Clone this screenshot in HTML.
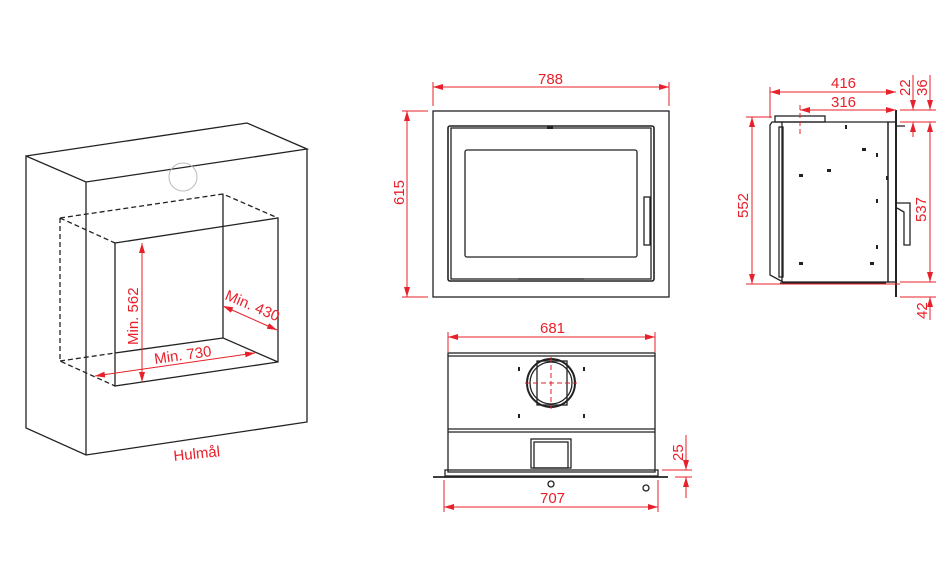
<!DOCTYPE html>
<html><head><meta charset="utf-8"><style>
html,body{margin:0;padding:0;background:#fff;}
svg{display:block}
text{font-family:"Liberation Sans",sans-serif;fill:#e8202a;font-size:15px}
</style></head><body>
<svg width="950" height="578" viewBox="0 0 950 578" xmlns="http://www.w3.org/2000/svg">
<defs>
<marker id="a" viewBox="0 0 10 6" refX="10" refY="3" markerWidth="10" markerHeight="6" orient="auto-start-reverse" markerUnits="userSpaceOnUse"><path d="M0,0L10,3L0,6z" fill="#e8202a"/></marker>
</defs>
<!-- LEFT ISO -->
<g stroke="#222" stroke-width="1.3" fill="none">
<path d="M26,156L247,123L307,149L86,182L26,156L26,428L86,455L307,422L307,149M86,182L86,455"/>
<path d="M115,243L278,218L278,362L115,386Z"/>
<path d="M223,194L223,338L278,362" />
<g stroke-dasharray="5,3">
<path d="M60,218L223,194L278,218M60,218L115,243M60,218L60,361L115,386M60,361L115,353"/>
</g>
<path d="M115,353L223,338"/>
</g>
<circle cx="183" cy="177" r="14" fill="none" stroke="#bbb" stroke-width="1"/>
<g stroke="#e8202a" stroke-width="1" fill="none">
<line x1="142" y1="243" x2="142" y2="382" marker-start="url(#a)" marker-end="url(#a)"/>
<line x1="95" y1="376" x2="255" y2="353" marker-start="url(#a)" marker-end="url(#a)"/>
<line x1="223" y1="306" x2="277" y2="330" marker-start="url(#a)" marker-end="url(#a)"/>
</g>
<text transform="translate(138,345) rotate(-90)">Min. 562</text>
<text transform="translate(155,364) rotate(-8)">Min. 730</text>
<text transform="translate(224,299) rotate(23)">Min. 430</text>
<text transform="translate(174,461) rotate(-6)">Hulmål</text>

<!-- FRONT VIEW -->
<g stroke="#222" stroke-width="1.3" fill="none">
<rect x="433" y="111" width="236" height="186"/>
<rect x="448" y="126" width="206" height="155" rx="2" stroke-width="1.6"/>
<rect x="451" y="128" width="200" height="151"/>
<rect x="465" y="150" width="172" height="107" rx="2"/>
<rect x="644" y="197" width="6" height="48"/>
<line x1="518" y1="279" x2="584" y2="279"/>
</g>
<rect x="547" y="126" width="6" height="3" fill="#222"/>
<g stroke="#e8202a" stroke-width="1" fill="none">
<line x1="433" y1="87" x2="669" y2="87" marker-start="url(#a)" marker-end="url(#a)"/>
<line x1="433" y1="82" x2="433" y2="106"/><line x1="669" y1="82" x2="669" y2="106"/>
<line x1="407" y1="111" x2="407" y2="297" marker-start="url(#a)" marker-end="url(#a)"/>
<line x1="402" y1="111" x2="428" y2="111"/><line x1="402" y1="297" x2="428" y2="297"/>
</g>
<text x="538" y="84">788</text>
<text transform="translate(404,205) rotate(-90)">615</text>

<!-- BOTTOM VIEW -->
<g stroke="#222" stroke-width="1.3" fill="none">
<rect x="448" y="353" width="207" height="119"/>
<line x1="448" y1="356" x2="655" y2="356"/>
<line x1="448" y1="429" x2="655" y2="429"/>
<line x1="448" y1="432" x2="655" y2="432"/>
<circle cx="551" cy="383" r="24" stroke-width="2"/>
<circle cx="551" cy="383" r="21"/>
<rect x="537" y="361" width="30" height="44"/>
<rect x="531" y="439" width="40" height="29"/>
<rect x="534" y="442" width="34" height="26"/>
<rect x="445" y="470" width="213" height="6"/>
<line x1="433" y1="477" x2="668" y2="477" stroke-width="1.8"/>
<circle cx="551" cy="484" r="3"/><circle cx="646" cy="488" r="3"/>
</g>
<g fill="#222"><rect x="518" y="367" width="2" height="4"/><rect x="583" y="367" width="2" height="4"/><rect x="518" y="414" width="2" height="4"/><rect x="583" y="414" width="2" height="4"/></g>
<g stroke="#e8202a" stroke-width="1" fill="none">
<path d="M551,357V409M525,383H577" stroke-dasharray="5,3"/>
<line x1="448" y1="337" x2="655" y2="337" marker-start="url(#a)" marker-end="url(#a)"/>
<line x1="448" y1="332" x2="448" y2="352"/><line x1="655" y1="332" x2="655" y2="352"/>
<line x1="444" y1="507" x2="658" y2="507" marker-start="url(#a)" marker-end="url(#a)"/>
<line x1="444" y1="480" x2="444" y2="512"/><line x1="658" y1="480" x2="658" y2="512"/>
<line x1="686" y1="435" x2="686" y2="470" marker-end="url(#a)"/>
<line x1="686" y1="498" x2="686" y2="477" marker-end="url(#a)"/>
<line x1="662" y1="470" x2="692" y2="470"/><line x1="675" y1="477" x2="692" y2="477"/>
</g>
<text x="540" y="333">681</text>
<text x="540" y="503">707</text>
<text transform="translate(683,461) rotate(-90)">25</text>

<!-- SIDE VIEW -->
<g stroke="#222" stroke-width="1.3" fill="none">
<path d="M772,122H888V282H783L770,275V125Z"/>
<rect x="775" y="116" width="50" height="6"/>
<rect x="779" y="127" width="4" height="150"/>
<line x1="782" y1="122" x2="782" y2="282"/>
<rect x="888" y="122" width="8" height="160"/>
<line x1="896" y1="110" x2="896" y2="297" stroke-width="2"/>
<line x1="896" y1="126" x2="905" y2="126"/>
<path d="M897,203H910V245H904V212L897,208"/>
<line x1="780" y1="283" x2="886" y2="283"/>
</g>
<g fill="#222"><rect x="799" y="174" width="4" height="3"/><rect x="827" y="169" width="4" height="3"/><rect x="862" y="148" width="4" height="3"/><rect x="876" y="153" width="2" height="4"/><rect x="876" y="199" width="2" height="4"/><rect x="876" y="245" width="2" height="4"/><rect x="799" y="262" width="4" height="3"/><rect x="870" y="262" width="4" height="3"/><rect x="845" y="125" width="2" height="4"/><rect x="886" y="176" width="2" height="4"/></g>
<g stroke="#e8202a" stroke-width="1" fill="none">
<line x1="770" y1="92" x2="896" y2="92" marker-start="url(#a)" marker-end="url(#a)"/>
<line x1="770" y1="87" x2="770" y2="118"/>
<line x1="800" y1="110" x2="896" y2="110" marker-start="url(#a)" marker-end="url(#a)"/>
<line x1="800" y1="105" x2="800" y2="135" stroke-dasharray="5,3"/>
<line x1="752" y1="117" x2="752" y2="284" marker-start="url(#a)" marker-end="url(#a)"/>
<line x1="746" y1="117" x2="772" y2="117"/><line x1="746" y1="284" x2="900" y2="284"/>
<line x1="913" y1="75" x2="913" y2="110" marker-end="url(#a)"/>
<line x1="913" y1="137" x2="913" y2="122" marker-end="url(#a)"/>
<line x1="930" y1="75" x2="930" y2="110" marker-end="url(#a)"/>
<line x1="930" y1="122" x2="930" y2="282" marker-start="url(#a)" marker-end="url(#a)"/>
<line x1="930" y1="320" x2="930" y2="297" marker-end="url(#a)"/>
<line x1="900" y1="110" x2="936" y2="110"/><line x1="900" y1="122" x2="936" y2="122"/>
<line x1="900" y1="282" x2="936" y2="282"/><line x1="900" y1="297" x2="936" y2="297"/>
</g>
<text x="831" y="88">416</text>
<text x="831" y="107">316</text>
<text transform="translate(748,218) rotate(-90)">552</text>
<text transform="translate(926,222) rotate(-90)">537</text>
<text transform="translate(910,96) rotate(-90)">22</text>
<text transform="translate(927,96) rotate(-90)">36</text>
<text transform="translate(927,319) rotate(-90)">42</text>
</svg>
</body></html>
